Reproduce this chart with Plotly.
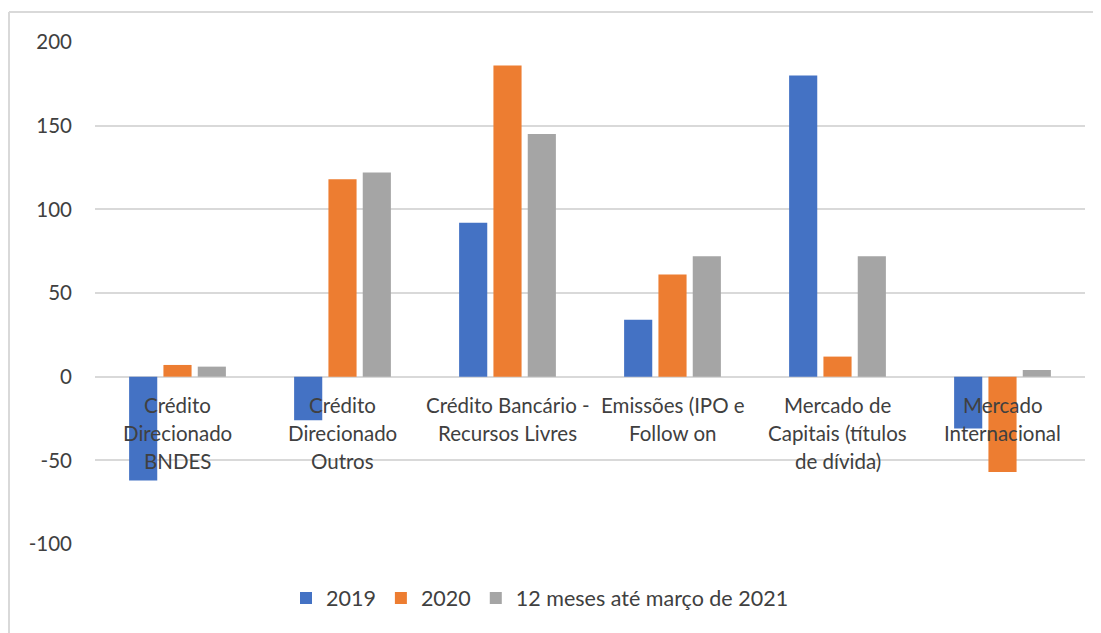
import plotly.graph_objects as go

categories = ["Crédito Direcionado BNDES", "Crédito Direcionado Outros",
              "Crédito Bancário - Recursos Livres", "Emissões (IPO e Follow on",
              "Mercado de Capitais (títulos de dívida)", "Mercado Internacional"]
category_lines = [["Crédito", "Direcionado", "BNDES"],
                  ["Crédito", "Direcionado", "Outros"],
                  ["Crédito Bancário -", "Recursos Livres"],
                  ["Emissões (IPO e", "Follow on"],
                  ["Mercado de", "Capitais (títulos", "de dívida)"],
                  ["Mercado", "Internacional"]]
series_names = ["2019", "2020", "12 meses até março de 2021"]
v2019 = [-62, -26, 92, 34, 180, -31]
v2020 = [7, 118, 186, 61, 12, -57]
v12m = [6, 122, 145, 72, 72, 4]
tick_vals = [-100, -50, 0, 50, 100, 150, 200]
tick_text = ["-100", "-50", "0", "50", "100", "150", "200"]

colors = ["#4472C4", "#ED7D31", "#A5A5A5"]
FONT = "Lato"
TXT = "#404040"
FS = 20.5

OFF = 8  # page body margin
W, H = 1101 - OFF, 633 - OFF
# target plot area in window pixels: x 95..1085, y 42..544
L, T = 95 - OFF, 42 - OFF
R = W - (1085 - OFF)
B = H - (544 - OFF)
pw, ph = W - L - R, H - T - B

def px_x(p):
    return (p - OFF - L) / pw
def px_y(p):
    return (H - B - (p - OFF)) / ph

fig = go.Figure()
for name, vals, c in zip(series_names, [v2019, v2020, v12m], colors):
    fig.add_trace(go.Bar(x=categories, y=vals, name=name, marker_color=c,
                         marker_line_width=0))

for cat, lines in zip(categories, category_lines):
    for i, ln in enumerate(lines):
        fig.add_annotation(x=cat, y=0, xref="x", yref="y", text=ln,
                           showarrow=False, yanchor="middle", xanchor="center",
                           yshift=-28 - 28 * i,
                           font=dict(family=FONT, size=FS, color=TXT))

# chart border (top and left visible)
fig.add_shape(type="line", xref="paper", yref="paper",
              x0=px_x(9), x1=px_x(1110), y0=px_y(12), y1=px_y(12),
              line=dict(color="#D9D9D9", width=2))
fig.add_shape(type="line", xref="paper", yref="paper",
              x0=px_x(9), x1=px_x(9), y0=px_y(12), y1=px_y(640),
              line=dict(color="#D9D9D9", width=2))

fig.update_layout(
    width=W, height=H,
    margin=dict(l=L, r=R, t=T, b=B, autoexpand=False),
    paper_bgcolor="white", plot_bgcolor="white",
    barmode="group", bargap=0.376, bargroupgap=0.18,
    font=dict(family=FONT, size=FS, color=TXT),
    showlegend=True,
    legend=dict(orientation="h", x=px_x(540), xanchor="center",
                y=px_y(598), yanchor="middle",
                font=dict(family=FONT, size=21.5, color=TXT),
                itemwidth=30, traceorder="normal"),
    xaxis=dict(showticklabels=False, showgrid=False, zeroline=False,
               showline=False, ticks=""),
    yaxis=dict(range=[-100, 200], tickvals=tick_vals, ticktext=tick_text,
               showgrid=True,
               gridcolor="#D9D9D9", gridwidth=1.5, zeroline=True,
               zerolinecolor="#D9D9D9", zerolinewidth=1.5, showline=False,
               ticks="", ticklabelstandoff=22,
               tickfont=dict(family=FONT, size=FS, color=TXT)),
)

fig.write_html("out.html")
